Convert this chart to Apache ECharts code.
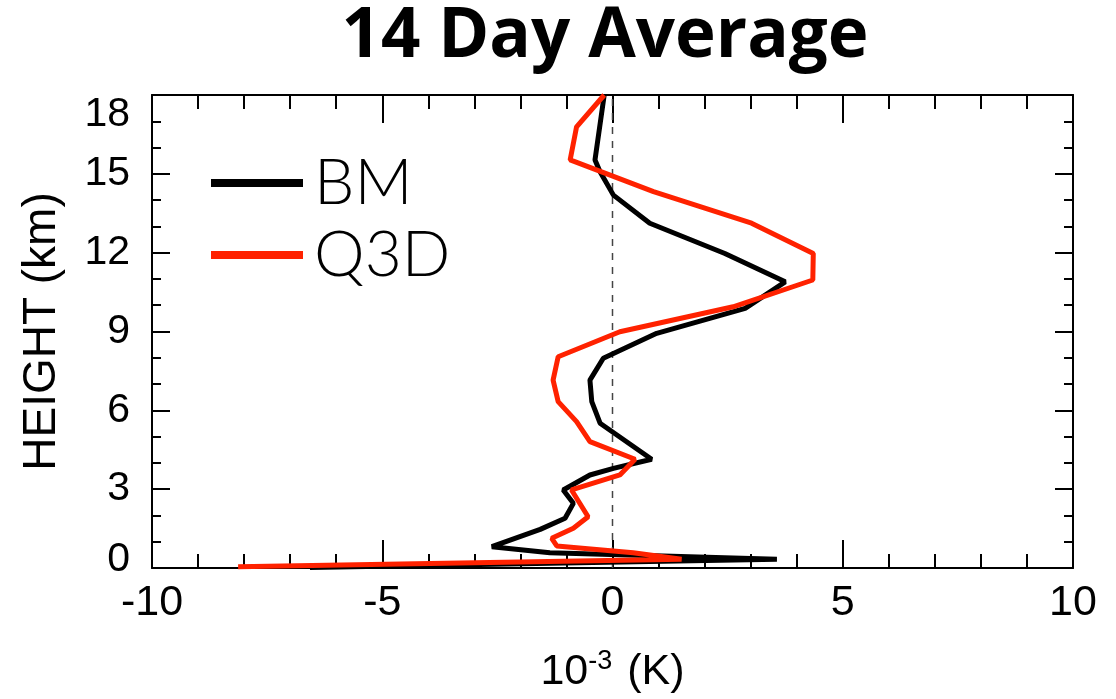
<!DOCTYPE html>
<html>
<head>
<meta charset="utf-8">
<title>14 Day Average</title>
<script src="https://cdn.jsdelivr.net/npm/echarts@6/dist/echarts.min.js"></script>
<style>
  html, body { margin: 0; padding: 0; background: #fff; }
  #chart { width: 1116px; height: 699px; }
</style>
</head>
<body>
<div id="chart"></div>
<script>
// heights (km) and 10^-3 K values, top to bottom
const bmHeight = [18.0, 15.53, 15.08, 14.19, 13.12, 11.97, 10.89, 9.88, 8.93, 7.98, 7.15, 6.33, 5.51, 4.14, 3.79, 3.54, 2.97, 2.46, 1.89, 1.47, 0.81, 0.58, 0.33, 0.02];
const bmValue  = [-0.18, -0.38, -0.27, 0.02, 0.81, 2.44, 3.75, 2.88, 0.96, -0.20, -0.49, -0.45, -0.27, 0.85, 0.02, -0.49, -1.07, -0.85, -1.03, -1.57, -2.62, -1.36, 3.57, -6.57];

const q3dHeight = [18.0, 16.79, 15.53, 14.32, 13.12, 11.97, 10.96, 9.94, 8.99, 8.04, 7.15, 6.33, 5.57, 4.81, 4.14, 3.54, 2.97, 1.95, 1.51, 1.13, 0.84, 0.58, 0.33, 0.05];
const q3dValue  = [-0.18, -0.78, -0.92, 0.89, 3.02, 4.36, 4.35, 2.62, 0.16, -1.18, -1.29, -1.18, -0.78, -0.49, 0.49, 0.16, -0.89, -0.53, -0.85, -1.32, -1.21, 0.45, 1.50, -8.13];

const zeroLine = [[0, 0], [0, 18]];

const xTicks = { min: -10, max: 10, step: 5 };
const yTicks = { min: 0, max: 18, step: 3 };

const pairs = (xs, ys) => xs.map((v, i) => [v, ys[i]]);

const labelFont = '"Liberation Sans", Arial, sans-serif';

function xAxisDef(pos, showLabel) {
    return {
        type: 'value', position: pos,
        min: xTicks.min, max: xTicks.max, interval: xTicks.step,
        axisLine: { show: true, onZero: false, lineStyle: { color: '#000', width: 2 } },
        axisTick: { show: true, inside: true, length: 28, lineStyle: { color: '#000', width: 2 } },
        minorTick: { show: true, splitNumber: 5, length: 14, lineStyle: { color: '#000', width: 2 } },
        splitLine: { show: false },
        axisLabel: { show: showLabel, color: '#000', fontSize: 43, fontFamily: labelFont, margin: 14 }
    };
}

function yAxisDef(pos, showLabel) {
    return {
        type: 'value', position: pos,
        min: yTicks.min, max: yTicks.max, interval: yTicks.step,
        axisLine: { show: true, onZero: false, lineStyle: { color: '#000', width: 2 } },
        axisTick: { show: true, inside: true, length: 18, lineStyle: { color: '#000', width: 2 } },
        minorTick: { show: true, splitNumber: 3, length: 9, lineStyle: { color: '#000', width: 2 } },
        splitLine: { show: false },
        axisLabel: {
            show: showLabel, color: '#000', fontSize: 41, fontFamily: labelFont, margin: 22,
            // the end labels sit pulled inside the frame, as in the picture
            formatter: v => v === yTicks.max ? '{hi|' + v + '}' : v === yTicks.min ? '{lo|' + v + '}' : String(v),
            rich: {
                hi: { fontSize: 41, fontFamily: labelFont, color: '#000', padding: [40, 0, 0, 0] },
                lo: { fontSize: 41, fontFamily: labelFont, color: '#000', padding: [0, 0, 16, 0] }
            }
        }
    };
}

const chart = echarts.init(document.getElementById('chart'), null, { renderer: 'canvas' });

const xBottom = xAxisDef('bottom', true);
xBottom.name = '{a|10}{s|-3}{a| (K)}';
xBottom.nameLocation = 'middle';
xBottom.nameGap = 80;
xBottom.nameTextStyle = {
    rich: {
        a: { fontSize: 43, fontFamily: labelFont, color: '#000', lineHeight: 48 },
        s: { fontSize: 27, fontFamily: labelFont, color: '#000', verticalAlign: 'top', lineHeight: 48, padding: [0, 3, 0, 0] }
    }
};

const yLeft = yAxisDef('left', true);
yLeft.name = 'HEIGHT (km)';
yLeft.nameLocation = 'middle';
yLeft.nameGap = 87;
yLeft.nameTextStyle = { fontSize: 46, fontFamily: labelFont, color: '#000' };

chart.setOption({
    animation: false,
    backgroundColor: '#fff',
    title: {
        text: '14 Day Average',
        left: 600, top: -2, textAlign: 'center',
        textStyle: { fontSize: 69, fontWeight: 'bold', fontFamily: '"Open Sans", Lato, sans-serif', color: '#000' }
    },
    grid: { left: 152, right: 43, top: 95, bottom: 131 },
    legend: {
        orient: 'vertical', left: 206, top: 146,
        icon: 'rect', itemWidth: 92, itemHeight: 8, itemGap: 8,
        data: ['BM', 'Q3D'],
        textStyle: { fontSize: 64, fontFamily: 'Lato, sans-serif', fontWeight: 300, color: '#000', lineHeight: 64, padding: [0, 0, 0, 6] }
    },
    xAxis: [xBottom, xAxisDef('top', false)],
    yAxis: [yLeft, yAxisDef('right', false)],
    series: [
        {
            name: 'zero', type: 'line', data: zeroLine, symbol: 'none', silent: true,
            lineStyle: { color: '#444', width: 1.5, type: [7, 7] }
        },
        {
            name: 'BM', type: 'line', data: pairs(bmValue, bmHeight), symbol: 'none',
            color: '#000', lineStyle: { color: '#000', width: 5 }
        },
        {
            name: 'Q3D', type: 'line', data: pairs(q3dValue, q3dHeight), symbol: 'none',
            color: '#ff2200', lineStyle: { color: '#ff2200', width: 5 }
        }
    ]
});
</script>
</body>
</html>
